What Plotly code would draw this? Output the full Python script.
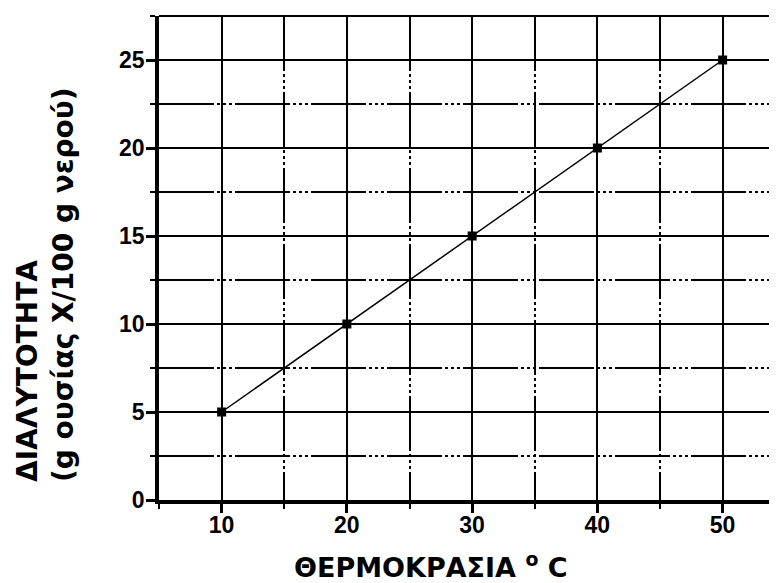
import plotly.graph_objects as go

# Data
temperature = [10, 20, 30, 40, 50]
solubility = [5, 10, 15, 20, 25]

x_title = "<b>ΘΕΡΜΟΚΡΑΣΙΑ <sup>o</sup> C</b>"
y_title_line1 = "ΔΙΑΛΥΤΟΤΗΤΑ"
y_title_line2 = "(g ουσίας X/100 g νερού)"

# the page body adds an 8px margin, so the figure is sized to compensate
OFF = 8
W, H = 777 - OFF, 583 - OFF
L, R, T, B = 159 - OFF, 0, 16 - OFF, 83
PW = W - L - R          # plot width in px (618)
PH = H - T - B          # plot height in px (484)
PLOT_LEFT_PAGE = 159
PLOT_BOTTOM_PAGE = 500

minor_dash = "55px,3px,3px,3px,3px,3px,3px,3px"

fig = go.Figure()
fig.add_trace(go.Scatter(
    x=temperature, y=solubility, mode="lines+markers",
    line=dict(color="black", width=1.5),
    marker=dict(symbol="square", size=9, color="black"),
    showlegend=False, cliponaxis=False,
))

tickfont = dict(family="Liberation Sans, Arial, sans-serif", size=23, color="black", weight="bold")

fig.update_layout(
    width=W, height=H, autosize=False,
    margin=dict(l=L, r=R, t=T, b=B, pad=0),
    plot_bgcolor="white", paper_bgcolor="white",
    xaxis=dict(
        range=[5, 5 + PW / 12.525],
        tickmode="linear", tick0=10, dtick=10,
        showline=True, linecolor="black", linewidth=3.5,
        ticks="outside", ticklen=9, tickwidth=3, tickcolor="black",
        showgrid=True, gridcolor="black", gridwidth=1.6,
        zeroline=False, tickfont=tickfont, automargin=False,
        ticklabelstandoff=-7,
        minor=dict(tick0=5, dtick=5, ticks="outside", ticklen=5, tickwidth=2,
                   tickcolor="black", showgrid=True, gridcolor="black",
                   gridwidth=1.6, griddash=minor_dash),
    ),
    yaxis=dict(
        range=[0, 27.5],
        tickmode="linear", tick0=0, dtick=5,
        showline=True, linecolor="black", linewidth=3.5,
        ticks="outside", ticklen=9, tickwidth=3, tickcolor="black",
        showgrid=True, gridcolor="black", gridwidth=1.6,
        zeroline=False, tickfont=tickfont, automargin=False,
        ticklabelstandoff=-3,
        minor=dict(tick0=0, dtick=2.5, ticks="outside", ticklen=5, tickwidth=2,
                   tickcolor="black", showgrid=True, gridcolor="black",
                   gridwidth=1.6, griddash=minor_dash),
    ),
    shapes=[dict(type="line", xref="paper", yref="paper", x0=0, x1=1, y0=1, y1=1,
                 line=dict(color="black", width=2))],
    annotations=[
        dict(text=x_title, xref="paper", yref="paper",
             x=(431 - PLOT_LEFT_PAGE) / PW, y=(PLOT_BOTTOM_PAGE - 566) / PH,
             xanchor="center", yanchor="middle", showarrow=False,
             font=dict(family="DejaVu Sans, sans-serif", size=27, color="black")),
        dict(text="<b>" + y_title_line1 + "</b><br><b>" + y_title_line2 + "</b>",
             xref="paper", yref="paper",
             x=(45 - PLOT_LEFT_PAGE) / PW, y=(PLOT_BOTTOM_PAGE - 285) / PH,
             xanchor="center", yanchor="middle", showarrow=False,
             textangle=-90, align="left",
             font=dict(family="DejaVu Sans, sans-serif", size=28, color="black")),
    ],
)

fig.write_html("out.html")
